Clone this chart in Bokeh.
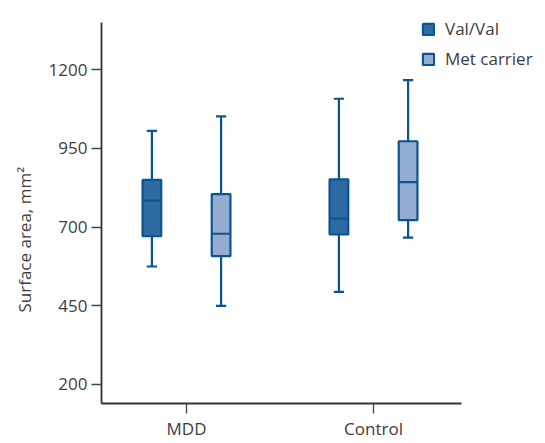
import math
from bokeh.plotting import figure
from bokeh.models import (ColumnDataSource, FixedTicker, Legend, LegendItem, Range1d, Title)
from bokeh.embed import file_html
from bokeh.resources import INLINE

# ---- data ----
groups = ["MDD", "Control"]
series = ["Val/Val", "Met carrier"]

val_low = [575, 494]
val_q1 = [671, 677]
val_med = [784, 727]
val_q3 = [850, 852]
val_high = [1006, 1108]

met_low = [450, 667]
met_q1 = [608, 722]
met_med = [679, 843]
met_q3 = [805, 973]
met_high = [1052, 1167]

y_ticks = [200, 450, 700, 950, 1200]
y_axis_top = 1350

# ---- styling ----
FONT = "Open Sans"
TEXT_COLOR = "#3d3d3d"
LINE_COLOR = "#0b5493"
FILL_VAL = "#2e6ba3"
FILL_MET = "#94accf"
OFFSET = 0.185
BOX_W = 0.10
CAP_W = 0.055

X0 = 0.5455
X_AXIS_END = 2.4706
Y0 = 139.6

p = figure(width=540, height=442, output_backend="svg", toolbar_location=None,
           x_range=Range1d(X0, 2.893), y_range=Range1d(Y0, 1404.3),
           min_border_left=101, min_border_right=0, min_border_top=5, min_border_bottom=39)
p.outline_line_color = None
p.xgrid.visible = False
p.ygrid.visible = False
p.background_fill_color = "white"
p.border_fill_color = "white"


def add_series(low, q1, med, q3, high, offset, fill):
    xs = [i + 1 + offset for i in range(len(groups))]
    src = ColumnDataSource(dict(
        x=xs, low=low, q1=q1, med=med, q3=q3, high=high,
        x0=[x - BOX_W / 2 for x in xs], x1=[x + BOX_W / 2 for x in xs],
        c0=[x - CAP_W / 2 for x in xs], c1=[x + CAP_W / 2 for x in xs],
    ))
    kw = dict(source=src, line_color=LINE_COLOR, line_width=2.2)
    p.segment(x0="x", y0="low", x1="x", y1="q1", **kw)
    p.segment(x0="x", y0="q3", x1="x", y1="high", **kw)
    p.segment(x0="c0", y0="low", x1="c1", y1="low", **kw)
    p.segment(x0="c0", y0="high", x1="c1", y1="high", **kw)
    box = p.vbar(x="x", width=BOX_W, top="q3", bottom="q1", fill_color=fill, **kw)
    p.segment(x0="x0", y0="med", x1="x1", y1="med", **kw)
    return box


r_val = add_series(val_low, val_q1, val_med, val_q3, val_high, -OFFSET, FILL_VAL)
r_met = add_series(met_low, met_q1, met_med, met_q3, met_high, OFFSET, FILL_MET)

# axes
p.xaxis.ticker = FixedTicker(ticks=[1, 2])
p.xaxis.major_label_overrides = {1: groups[0], 2: groups[1]}
p.xaxis.bounds = (X0, X_AXIS_END)
p.yaxis.ticker = FixedTicker(ticks=y_ticks)
p.yaxis.bounds = (Y0, y_axis_top)
for ax in (p.xaxis, p.yaxis):
    ax.axis_line_color = "#333333"
    ax.axis_line_width = 1.8
    ax.major_tick_line_color = "#444444"
    ax.major_tick_line_width = 1.3
    ax.major_tick_out = 10
    ax.major_tick_in = 0
    ax.minor_tick_line_color = None
    ax.major_label_text_font = FONT
    ax.major_label_text_font_size = "17px"
    ax.major_label_text_color = TEXT_COLOR
p.yaxis.major_label_standoff = 4
p.xaxis.major_label_standoff = 3

# y axis title
p.add_layout(Title(text="Surface area, mm\u00b2", align="left", offset=91,
                   vertical_align="middle", standoff=18, text_font=FONT,
                   text_font_size="17px", text_font_style="normal",
                   text_color=TEXT_COLOR), "left")

legend = Legend(items=[LegendItem(label=series[0], renderers=[r_val]),
                       LegendItem(label=series[1], renderers=[r_met])],
                location=(320, 333), orientation="vertical")
legend.glyph_width = 14
legend.glyph_height = 14
legend.label_height = 22
legend.spacing = 7
legend.padding = 0
legend.margin = 0
legend.label_standoff = 10
legend.border_line_color = None
legend.background_fill_alpha = 0
legend.label_text_font = FONT
legend.label_text_font_size = "17px"
legend.label_text_color = TEXT_COLOR
p.add_layout(legend)

open("out.html", "w").write(file_html(p, INLINE))
